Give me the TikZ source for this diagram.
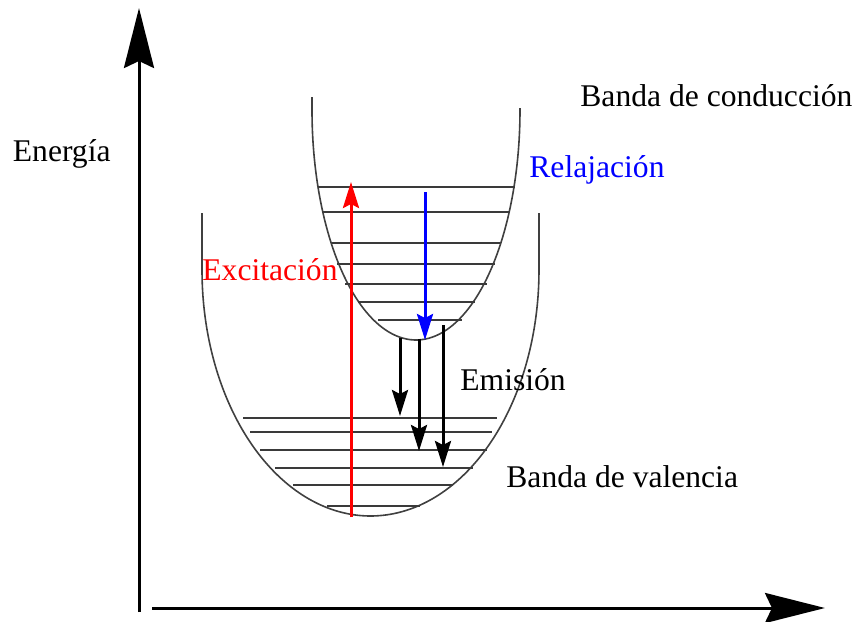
\documentclass[tikz,border=0pt]{standalone}
\usepackage{fontspec}
\setmainfont{Liberation Serif}
\usetikzlibrary{arrows.meta}
\definecolor{curvecol}{HTML}{404040}
\definecolor{levelcol}{HTML}{3A3A3A}
\tikzset{
  axis/.style={line width=1.5pt, -{Stealth[length=30pt,width=15pt,inset=3.5pt]}},
  band/.style={line width=0.8pt, curvecol},
  level/.style={line width=1.3pt, levelcol},
  trans/.style={line width=1.5pt, -{Stealth[length=13pt,width=8pt,inset=2pt]}},
  lbl/.style={anchor=base west, inner sep=0pt, font=\fontsize{15.8}{18}\selectfont},
}
\begin{document}
\begin{tikzpicture}[x=0.5pt,y=-0.5pt]
\useasboundingbox (0,0) rectangle (859,622);
% axes
\coordinate (yA) at (139,612);
\coordinate (yB) at (139,8);
\coordinate (xA) at (152,608);
\coordinate (xB) at (825,608);
\draw[axis] (yA) -- (yB);
\draw[axis] (xA) -- (xB);
% valence band curve
\draw[band] (202,213) -- (202,270)
  -- plot[domain=180:360, samples=90, smooth] ({370.5+168.5*cos(\x)}, {270-246*sin(\x)})
  -- (539,213);
% conduction band curve
\draw[band] (312,97) -- (312,110)
  -- plot[domain=180:360, samples=90, smooth] ({416+104*cos(\x)}, {110-230*sin(\x)})
  -- (520,108);
% conduction levels
\foreach \y/\l/\r in {187/318/515, 212/322/510, 243/332/500, 264/337/495, 284/345/487, 302/358/475, 320/378/462}
  \draw[level] (\l,\y) -- (\r,\y);
% valence levels
\foreach \y/\l/\r in {418/243/497, 432/250/492, 450/260/487, 468/275/473, 485/293/453, 506/327/420}
  \draw[level] (\l,\y) -- (\r,\y);
% transitions
\coordinate (exA) at (351,517);
\coordinate (exB) at (351,182);
\draw[trans, red] (exA) -- (exB);
\coordinate (reA) at (425,192);
\coordinate (reB) at (425,340);
\draw[trans, blue] (reA) -- (reB);
\coordinate (e1A) at (400,338);
\coordinate (e1B) at (400,416);
\coordinate (e2A) at (419,339);
\coordinate (e2B) at (419,451);
\coordinate (e3A) at (443,325);
\coordinate (e3B) at (443,467);
\draw[trans] (e1A) -- (e1B);
\draw[trans] (e2A) -- (e2B);
\draw[trans] (e3A) -- (e3B);
% labels
\node[lbl] (energia) at (12.5,161.5) {Energía};
\node[lbl] (cond) at (580,106.5) {Banda de conducción};
\node[lbl, blue] (relaj) at (529,177) {Relajación};
\node[lbl, red] (excit) at (202,280) {Excitación};
\node[lbl] (emis) at (460,390) {Emisión};
\node[lbl] (val) at (506,487) {Banda de valencia};
\end{tikzpicture}
\end{document}
